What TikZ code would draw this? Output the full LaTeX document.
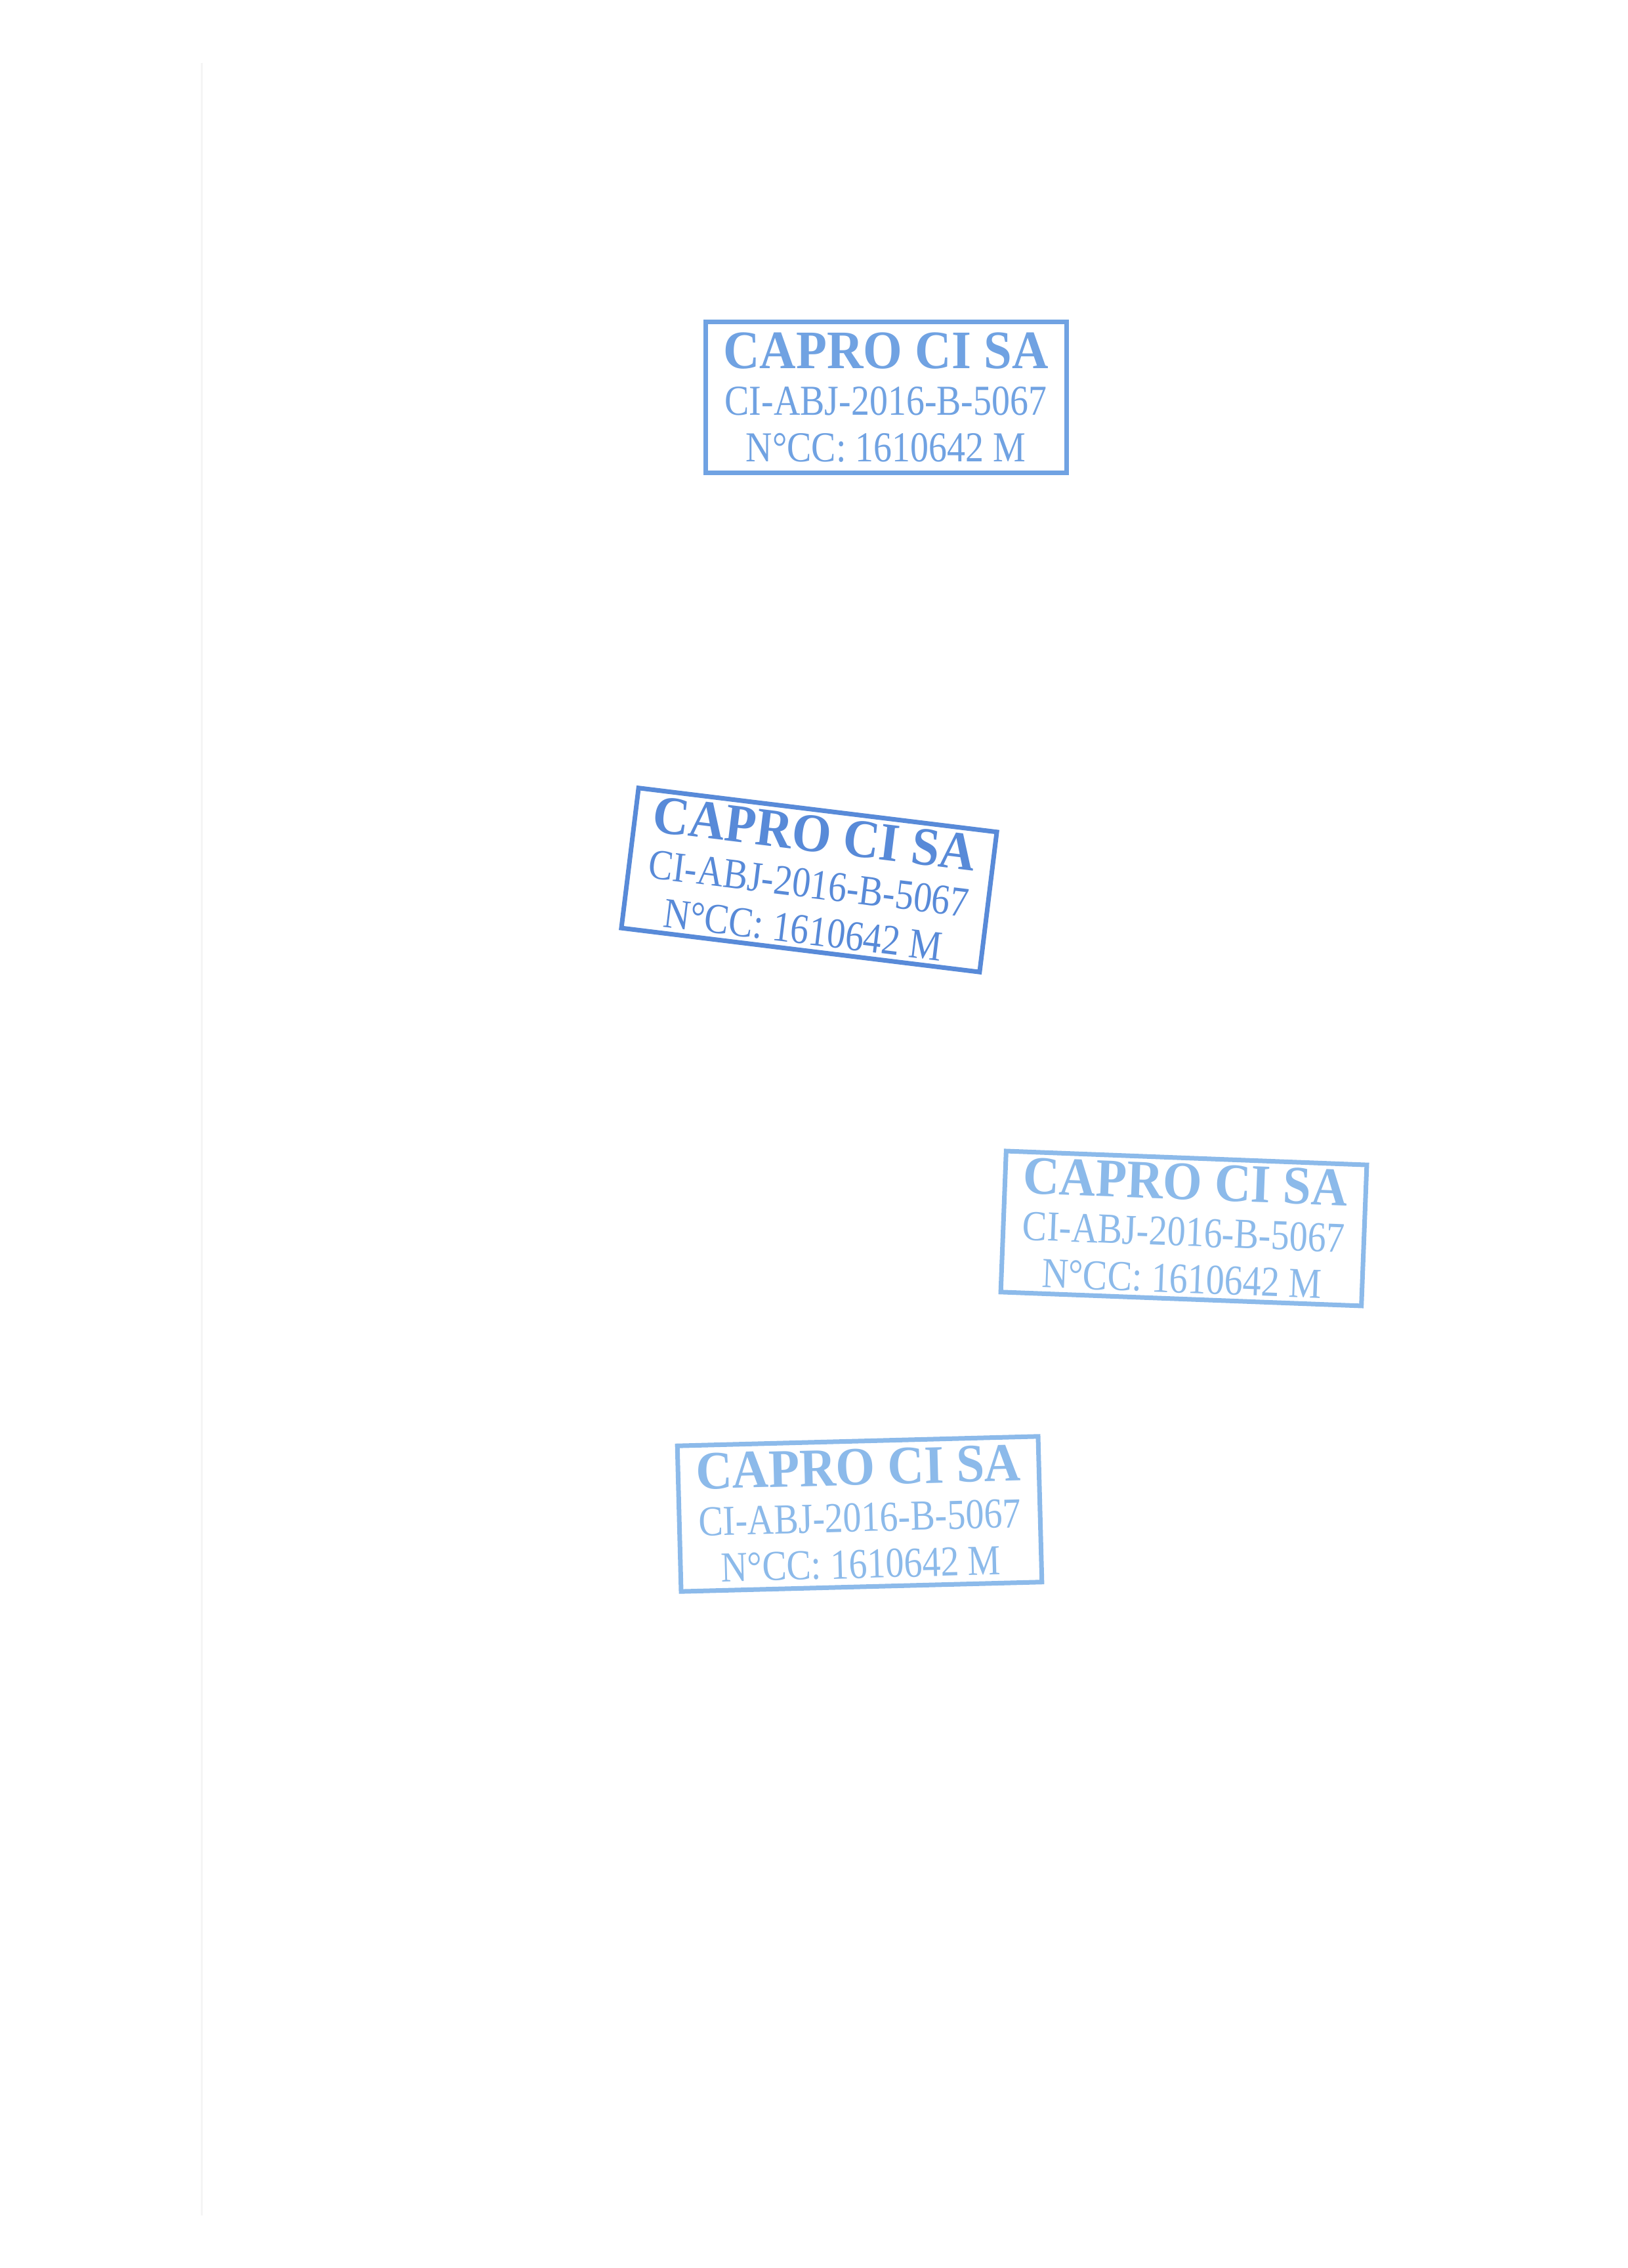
\documentclass[tikz,border=0pt]{standalone}
\usepackage{fontspec}
\setmainfont{Liberation Serif}
\newfontfamily\stampfont[FakeStretch=0.86]{Liberation Serif}
\newfontfamily\stamphead[FakeStretch=0.93]{Liberation Serif}

\definecolor{stampblue}{RGB}{112,162,226}
\definecolor{stampdark}{RGB}{88,138,216}
\definecolor{stamppale}{RGB}{140,186,234}

\newcommand{\stamplines}{{\stamphead\fontsize{23.5}{20}\selectfont\bfseries CAPRO CI SA}\\CI-ABJ-2016-B-5067\\N°CC: 1610642 M}

\begin{document}
\begin{tikzpicture}

\tikzstyle{every node}=[inner sep=0pt]
\tikzstyle{stamp}=[draw,line width=0.7mm,minimum width=5.5cm,minimum height=2.25cm,align=center,font=\stampfont\fontsize{18.5}{20.2}\selectfont]

\fill[white] (0,0) rectangle (24.8,34.56);
\useasboundingbox (0,0) rectangle (24.8,34.56);
\draw[black!4,line width=0.3mm] (3.07,33.6) -- (3.07,0.8);

\node[stamp,stampblue,minimum height=2.3cm] (stamp1) at (13.5,28.5) {\stamplines};
\node[stamp,stampdark,rotate=-7,minimum height=2.15cm] (stamp2) at (12.33,21.15) {\stamplines};
\node[stamp,stamppale,rotate=-2.2,minimum height=2.15cm] (stamp3) at (18.04,15.84) {\stamplines};
\node[stamp,stamppale,rotate=1.5,minimum height=2.22cm] (stamp4) at (13.1,11.49) {\stamplines};

\end{tikzpicture}
\end{document}
